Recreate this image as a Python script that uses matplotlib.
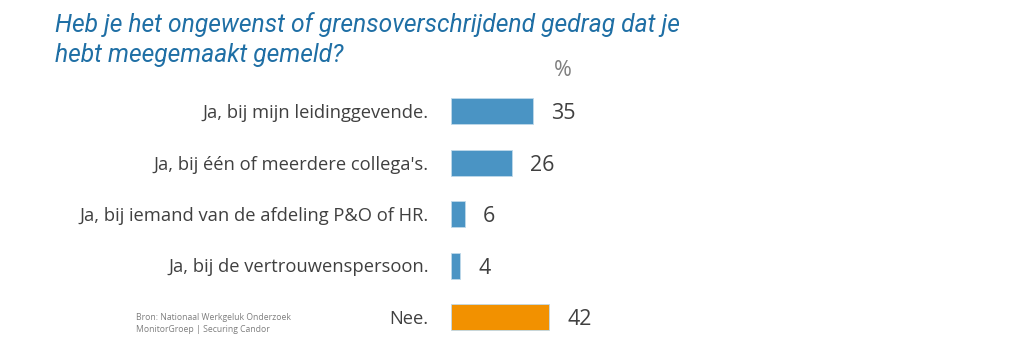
import matplotlib
matplotlib.use("Agg")
import matplotlib.pyplot as plt

categories = ["Ja, bij mijn leidinggevende.",
              "Ja, bij één of meerdere collega's.",
              "Ja, bij iemand van de afdeling P&O of HR.",
              "Ja, bij de vertrouwenspersoon.",
              "Nee."]
values = [35, 26, 6, 4, 42]
colors = ["#4A94C4", "#4A94C4", "#4A94C4", "#4A94C4", "#F29100"]
title_lines = ["Heb je het ongewenst of grensoverschrijdend gedrag dat je",
               "hebt meegemaakt gemeld?"]
source = "Bron: Nationaal Werkgeluk Onderzoek\nMonitorGroep | Securing Candor"

W, H = 1024, 358
fig = plt.figure(figsize=(W / 100, H / 100), dpi=100)
fig.patch.set_facecolor("white")

# axes geometry in pixels
left_px = 451
scale = 2.333  # px per unit
xmax = 100
spacing = 51.5
center_from_top = 214
h_px = 5 * spacing
bottom_px = (H - center_from_top) - h_px / 2
ax = fig.add_axes([left_px / W, bottom_px / H, xmax * scale / W, h_px / H])

y = list(range(len(categories)))
ax.barh(y, values, height=26 / spacing, color=colors, edgecolor="#BFD9EA", linewidth=0.6)
ax.set_xlim(0, xmax)
ax.set_ylim(len(categories) - 0.5, -0.5)
ax.set_yticks(y)
ax.set_yticklabels(categories, fontsize=13.2, color="#404040", family="Open Sans")
ax.tick_params(axis="y", length=0, pad=16)
ax.set_xticks([])
for s in ax.spines.values():
    s.set_visible(False)

for yi, v in zip(y, values):
    ax.annotate(str(v), (v, yi), xytext=(13, -2), textcoords="offset points",
                va="center", ha="left", fontsize=15.5, color="#404040", family="Open Sans")

fig.text(563 / W, 1 - 70 / H, "%", ha="center", va="center", fontsize=15.5,
         color="#7F7F7F", family="Open Sans")

for i, line in enumerate(title_lines):
    fig.text(55 / W, 1 - (32 + 30 * i) / H, line, ha="left", va="baseline",
             fontsize=17.7, style="italic", color="#1F6FA5", family="Roboto")

fig.text(136 / W, 1 - 313 / H, source, ha="left", va="top", fontsize=6.2,
         color="#7F7F7F", family="Open Sans", linespacing=1.45)

fig.savefig("out.png", dpi=100, facecolor="white")
